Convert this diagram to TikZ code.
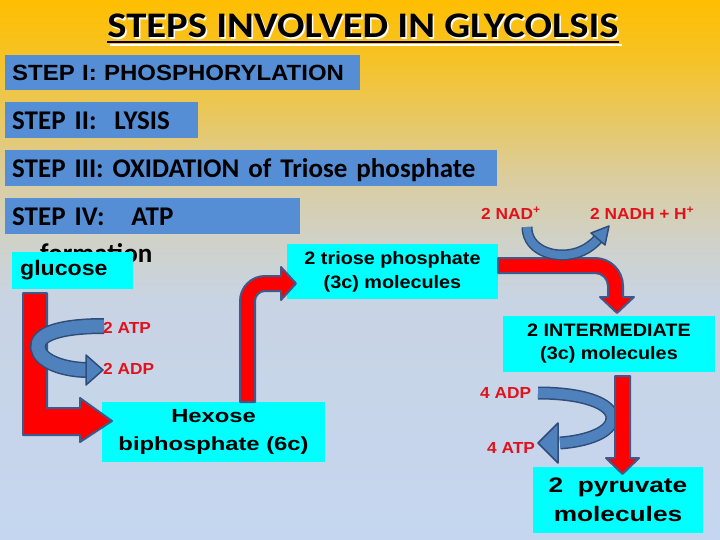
\documentclass[tikz,border=0pt]{standalone}
\usepackage{fontspec}
\setmainfont{Liberation Sans}
\newfontfamily\titlefont[FakeStretch=1.13]{Carlito}
\newfontfamily\stepfont[FakeStretch=1.0]{Carlito}
\newfontfamily\stepIfont[FakeStretch=1.09]{Liberation Sans}
\newfontfamily\boxA[FakeStretch=1.1]{Liberation Sans}
\newfontfamily\boxB[FakeStretch=1.25]{Liberation Sans}
\newfontfamily\labfont[FakeStretch=1.08]{Liberation Sans}
\definecolor{bg0}{RGB}{255,190,0}
\definecolor{bg1}{RGB}{245,195,40}
\definecolor{bg2}{RGB}{232,200,100}
\definecolor{bg3}{RGB}{218,205,160}
\definecolor{bg4}{RGB}{208,210,200}
\definecolor{bg5}{RGB}{200,212,228}
\definecolor{bg6}{RGB}{197,214,240}
\definecolor{stepblue}{RGB}{85,142,213}
\definecolor{boxcyan}{RGB}{0,255,255}
\definecolor{arrowred}{RGB}{255,0,0}
\definecolor{arrowedge}{RGB}{60,90,140}
\definecolor{curvefill}{RGB}{79,129,189}
\definecolor{curveedge}{RGB}{47,77,120}
\definecolor{labred}{RGB}{226,18,28}
\begin{document}
\begin{tikzpicture}[x=1pt,y=-1pt,
  stepbox/.style={fill=stepblue, inner ysep=0pt, inner xsep=7pt, align=left, anchor=west,
    font=\stepfont\bfseries\fontsize{27}{30}\selectfont, text height=19pt, text depth=0pt},
  cyanbox/.style={fill=boxcyan, inner sep=0pt, align=center},
  redblock/.style={fill=arrowred, draw=arrowedge, line width=2pt, line join=round},
  curveband/.style={draw=curveedge, double=curvefill, line width=1.5pt},
  curvehead/.style={fill=curvefill, draw=curveedge, line width=1.5pt, line join=round},
  lab/.style={text=labred, font=\labfont\bfseries\fontsize{16}{18}\selectfont, inner sep=0pt, anchor=west}
]
\useasboundingbox (0,0) rectangle (720,540);
% background
\shade[top color=bg0, bottom color=bg1] (0,0) rectangle (720,60.5);
\shade[top color=bg1, bottom color=bg2] (0,60) rectangle (720,120.5);
\shade[top color=bg2, bottom color=bg3] (0,120) rectangle (720,180.5);
\shade[top color=bg3, bottom color=bg4] (0,180) rectangle (720,240.5);
\shade[top color=bg4, bottom color=bg5] (0,240) rectangle (720,300.5);
\shade[top color=bg5, bottom color=bg6] (0,300) rectangle (720,540);

% title
\node[anchor=base, inner sep=0pt, text=white, font=\titlefont\bfseries\fontsize{36}{40}\selectfont]
  (titleshadow) at (364.5,39.5) {STEPS INVOLVED IN GLYCOLSIS};
\draw[white, line width=2.5pt] ([xshift=1.5pt,yshift=-5.5pt]titleshadow.base west) -- ([xshift=1.5pt,yshift=-5.5pt]titleshadow.base east);
\node[anchor=base, inner sep=0pt, text=black, font=\titlefont\bfseries\fontsize{36}{40}\selectfont]
  (title) at (363,38) {STEPS INVOLVED IN GLYCOLSIS};
\draw[black, line width=2.5pt] ([yshift=-4pt]title.base west) -- ([yshift=-4pt]title.base east);

% step boxes
\node[stepbox, text width=341pt, minimum height=35pt, font=\stepIfont\bfseries\fontsize{22}{26}\selectfont, text height=16pt]
  (s1) at (5,72.5) {\mbox{STEP I: PHOSPHORYLATION}};
\node[stepbox, text width=179pt, minimum height=36pt] (s2) at (5,120) {\mbox{STEP II:\ \ LYSIS}};
\node[stepbox, text width=478pt, minimum height=36pt] (s3) at (5,168) {\mbox{STEP III: OXIDATION of Triose phosphate}};
\node[stepbox, text width=281pt, minimum height=36pt] (s4) at (5,216) {\mbox{STEP IV:\ \ \ ATP}};
\node[anchor=base west, inner sep=0pt, font=\stepfont\bfseries\fontsize{27}{30}\selectfont]
  (s4b) at (40,262) {formation};

% cyan boxes
\node[cyanbox, anchor=west, text width=105pt, inner xsep=8pt, minimum height=37pt, align=left,
  font=\boxA\bfseries\fontsize{21}{24}\selectfont] (glucose) at (12,270.5) {glucose};
\node[cyanbox, minimum width=211pt, minimum height=55pt, font=\boxA\bfseries\fontsize{18}{24}\selectfont]
  (triose) at (392.5,271.5) {2 triose phosphate\\(3c) molecules};
\node[cyanbox, minimum width=223pt, minimum height=60pt, font=\boxB\bfseries\fontsize{19}{28}\selectfont]
  (hexose) at (213.5,432) {Hexose\\biphosphate (6c)};
\node[cyanbox, minimum width=212pt, minimum height=56pt, font=\boxA\bfseries\fontsize{18}{23}\selectfont]
  (inter) at (609,344) {2 INTERMEDIATE\\(3c) molecules};
\node[cyanbox, minimum width=170pt, minimum height=66pt, font=\boxB\bfseries\fontsize{21}{29}\selectfont]
  (pyruvate) at (618,500) {2\ \ pyruvate\\molecules};

% red block arrows
\filldraw[redblock] (23,293) -- (47,293) -- (47,408) -- (80,408) -- (80,398) -- (112,421)
  -- (80,442) -- (80,435) -- (23,435) -- cycle;
\filldraw[redblock] (240,402) -- (240,301) .. controls (240,287.2) and (251.2,276) .. (265,276)
  -- (281,276) -- (281,267) -- (296,283.5) -- (281,300) -- (281,291) -- (265,291)
  .. controls (259.5,291) and (255,295.5) .. (255,301) -- (255,402) -- cycle;
\filldraw[redblock] (498,258) -- (595,258) .. controls (610.4,258) and (623,270.6) .. (623,286)
  -- (623,297) -- (634,297) -- (617,313) -- (600,297) -- (608,297) -- (608,286)
  .. controls (608,278.8) and (602.2,273) .. (595,273) -- (498,273) -- cycle;

% blue curved arrows
\draw[curveband, double distance=13pt] (104,326) .. controls (60,326) and (36,334) .. (38,348)
  .. controls (40,362) and (65,370) .. (88,370);
\filldraw[curvehead] (86,355) -- (103,370) -- (86,385) -- cycle;
\draw[curveband, double distance=8pt] (527,227) .. controls (527,246) and (545,255) .. (562,255)
  .. controls (577,255) and (589,249) .. (598,239);
\filldraw[curvehead] (591,233) -- (609,226) -- (605,245) -- cycle;
\draw[curveband, double distance=10pt] (538,393) .. controls (582,393) and (612,403) .. (612,418)
  .. controls (612,432) and (588,441) .. (560,443);
\filldraw[curvehead] (558,423) -- (538,443) -- (558,463) -- cycle;

\filldraw[redblock] (615,376) -- (630,376) -- (630,458) -- (639,458) -- (622.5,474) -- (606,458)
  -- (615,458) -- cycle;

% red labels
\node[lab] (atp1) at (103,328) {2 ATP};
\node[lab] (adp1) at (103,369) {2 ADP};
\node[lab] (nad) at (481,213) {2 NAD\textsuperscript{+}};
\node[lab] (nadh) at (590,213) {2 NADH + H\textsuperscript{+}};
\node[lab] (adp4) at (480,393) {4 ADP};
\node[lab] (atp4) at (487,448) {4 ATP};
\end{tikzpicture}
\end{document}
